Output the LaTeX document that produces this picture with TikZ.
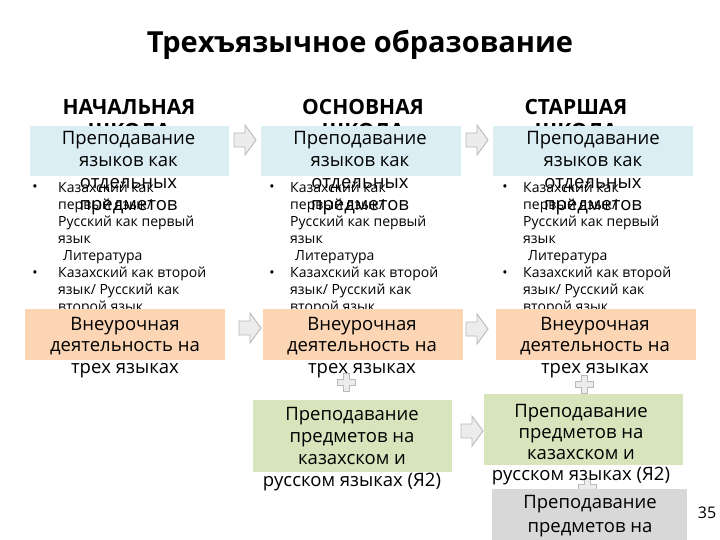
\documentclass[tikz,border=0pt]{standalone}
\usepackage{fontspec}
\setmainfont{Open Sans}
\definecolor{blueF}{RGB}{219,238,244}
\definecolor{orangeF}{RGB}{252,213,181}
\definecolor{greenF}{RGB}{216,228,188}
\definecolor{grayF}{RGB}{216,216,216}
\definecolor{arrF}{RGB}{236,236,236}
\definecolor{arrD}{RGB}{185,185,185}
\tikzset{
  titlest/.style={font=\fontsize{29}{34}\selectfont\bfseries, anchor=base, inner sep=0},
  hdr/.style={font=\fontsize{21}{24}\selectfont\bfseries, align=center, anchor=base, inner sep=0},
  boxtxt/.style={font=\fontsize{18.5}{22}\selectfont, align=center, anchor=base, inner sep=0},
  bltxt/.style={font=\fontsize{14}{17}\selectfont, align=left, anchor=base west, inner sep=0},
  bul/.style={font=\fontsize{14}{17}\selectfont, anchor=base, inner sep=0},
  panel/.style={draw=none, inner sep=0, anchor=north west},
  arrowst/.style={draw=arrD, fill=arrF, line width=0.9pt, line join=miter},
  rarrow/.pic={\draw[arrowst] (-11,-7) -- (0,-7) -- (0,-15) -- (11,0) -- (0,15) -- (0,7) -- (-11,7) -- cycle;},
  plussign/.pic={\draw[arrowst] (-3,-9) -- (3,-9) -- (3,-3) -- (9,-3) -- (9,3) -- (3,3) -- (3,9) -- (-3,9) -- (-3,3) -- (-9,3) -- (-9,-3) -- (-3,-3) -- cycle;}
}
\begin{document}
\begin{tikzpicture}[x=1pt,y=-1pt]
\useasboundingbox (0,0) rectangle (720,540);
\begin{scope}
\clip (0,0) rectangle (720,540);
% title
\node[titlest] (title) at (360,53) {Трехъязычное образование};
% headers (base = last line)
\node[hdr] (h1) at (129,139) {НАЧАЛЬНАЯ\\ШКОЛА};
\node[hdr] (h2) at (363,139) {ОСНОВНАЯ\\ШКОЛА};
\node[hdr] (h3) at (576,139) {СТАРШАЯ\\ШКОЛА};
% blue panels
\node[panel, fill=blueF, minimum width=199pt, minimum height=50pt] (b1) at (30,126) {};
\node[panel, fill=blueF, minimum width=200pt, minimum height=50pt] (b2) at (261,126) {};
\node[panel, fill=blueF, minimum width=200pt, minimum height=50pt] (b3) at (493,126) {};
% bullet lists
\foreach \c/\tx/\bx in {1/58/35, 2/290/272, 3/523/505}{
  \node[bltxt] (l\c) at (\tx,311) {Казахский как\\первый язык/\\Русский как первый\\язык\\\hspace*{5pt}Литература\\Казахский как второй\\язык/ Русский как\\второй язык};
  \node[bul] (ba\c) at (\bx,192) {•};
  \node[bul] (bb\c) at (\bx,277) {•};
}
% blue texts
\node[boxtxt] (bt1) at (128.5,211) {Преподавание\\языков как\\отдельных\\предметов};
\node[boxtxt] (bt2) at (360,211) {Преподавание\\языков как\\отдельных\\предметов};
\node[boxtxt] (bt3) at (593,211) {Преподавание\\языков как\\отдельных\\предметов};
% plus signs
\pic (p1) at (346,382) {plussign};
\pic (p2) at (584,384) {plussign};
\pic (p3) at (587,487) {plussign};
% orange panels
\node[panel, fill=orangeF, minimum width=200pt, minimum height=51pt] (o1) at (25,309) {};
\node[panel, fill=orangeF, minimum width=200pt, minimum height=51pt] (o2) at (263,309) {};
\node[panel, fill=orangeF, minimum width=200pt, minimum height=51pt] (o3) at (496,309) {};
\node[boxtxt, font=\fontsize{18.5}{21.5}\selectfont] (ot1) at (125,373) {Внеурочная\\деятельность на\\трех языках};
\node[boxtxt, font=\fontsize{18.5}{21.5}\selectfont] (ot2) at (362,373) {Внеурочная\\деятельность на\\трех языках};
\node[boxtxt, font=\fontsize{18.5}{21.5}\selectfont] (ot3) at (595,373) {Внеурочная\\деятельность на\\трех языках};
% green panels
\node[panel, fill=greenF, minimum width=199pt, minimum height=72pt] (g2) at (253,400) {};
\node[panel, fill=greenF, minimum width=199pt, minimum height=71pt] (g3) at (484,394) {};
\node[boxtxt] (gt2) at (352,486) {Преподавание\\предметов на\\казахском и\\русском языках (Я2)};
\node[boxtxt, font=\fontsize{18.5}{21}\selectfont] (gt3) at (581,480) {Преподавание\\предметов на\\казахском и\\русском языках (Я2)};
% gray panel
\node[panel, fill=grayF, minimum width=195pt, minimum height=60pt] (k3) at (492,489) {};
\node[boxtxt, font=\fontsize{18.5}{24}\selectfont] (kt3) at (590,556) {Преподавание\\предметов на\\английском};
% arrows
\pic (a1) at (245,140) {rarrow};
\pic (a2) at (477,140) {rarrow};
\pic (a3) at (250,328) {rarrow};
\pic (a4) at (477,329) {rarrow};
\pic (a5) at (472,431) {rarrow};
% page number
\node[font=\fontsize{16}{19}\selectfont, anchor=base, inner sep=0] (num) at (707,518) {35};
\end{scope}
\end{tikzpicture}
\end{document}
